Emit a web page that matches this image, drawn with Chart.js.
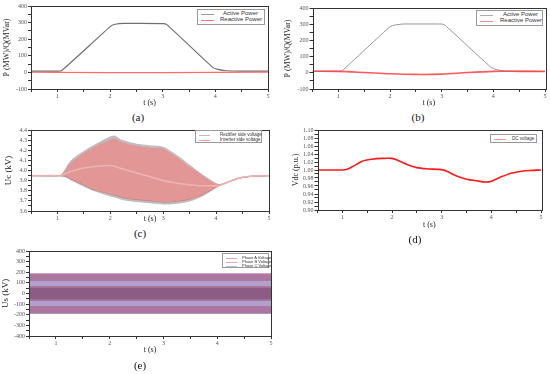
<!DOCTYPE html>
<html><head><meta charset="utf-8">
<script src="https://cdn.jsdelivr.net/npm/chart.js@4.4.1/dist/chart.umd.min.js"></script>
<style>
html,body{margin:0;padding:0;background:#fff;width:550px;height:374px;overflow:hidden;position:relative}
canvas{position:absolute}
.cap{position:absolute;font-family:"Liberation Serif",serif;font-size:11px;color:#111;transform:translate(-50%,-50%);white-space:nowrap}
.leg{position:absolute;border:1px solid #999;background:#fff;box-sizing:border-box;font-family:"Liberation Sans",Arial,sans-serif;color:#333}
.row{position:absolute;left:0;right:0;white-space:nowrap}
.row .ln{position:absolute;height:0;border-top:1px solid #888}
.row .tx{position:absolute}
</style>
</head><body>
<script>
// ---------- data ----------
const tA = [0.5, 1.0, 1.08, 2.02, 2.1, 2.25, 3.0, 3.08, 3.95, 4.05, 4.2, 4.5, 5.0];
const activeA = [8, 8, 10, 280, 290, 295, 294, 288, 30, 18, 10, 8, 8];
const tRA = [0.5, 1.0, 2.0, 3.0, 4.0, 5.0];
const reactiveA = [1, 0, -1, -1, 0, 1];

const tB = [0.5, 1.0, 1.07, 2.0, 2.1, 2.25, 3.0, 3.06, 3.95, 4.05, 4.2, 4.5, 5.0];
const activeB = [10, 10, 12, 285, 295, 301, 301, 295, 35, 20, 12, 10, 10];
const tRB = [0.5, 1.0, 1.5, 2.0, 2.5, 3.0, 3.5, 4.0, 4.5, 5.0];
const reactiveB = [10, 9, 2, -6, -10, -8, 2, 9, 9, 8];

const tC = [0.5, 1.05, 1.15, 1.25, 1.45, 1.7, 2.0, 2.08, 2.2, 2.4, 2.6, 2.8, 3.0, 3.1, 3.3, 3.5, 3.7, 3.9, 4.05, 4.2, 4.4, 4.6, 5.0];
const rectUpper = [3.95, 3.95, 4.01, 4.09, 4.17, 4.25, 4.33, 4.34, 4.30, 4.27, 4.25, 4.24, 4.23, 4.20, 4.13, 4.05, 3.97, 3.90, 3.86, 3.88, 3.92, 3.94, 3.95];
const rectLower = [3.95, 3.95, 3.94, 3.91, 3.86, 3.80, 3.75, 3.74, 3.72, 3.70, 3.69, 3.68, 3.67, 3.67, 3.68, 3.70, 3.74, 3.80, 3.85, 3.88, 3.92, 3.94, 3.95];
const invUpper = [3.95, 3.95, 4.00, 4.07, 4.15, 4.23, 4.30, 4.31, 4.28, 4.25, 4.23, 4.22, 4.21, 4.18, 4.11, 4.03, 3.96, 3.89, 3.86, 3.88, 3.92, 3.94, 3.95];
const invLower = [3.95, 3.95, 3.945, 3.92, 3.87, 3.81, 3.77, 3.76, 3.74, 3.72, 3.71, 3.70, 3.69, 3.69, 3.70, 3.72, 3.75, 3.81, 3.85, 3.88, 3.92, 3.94, 3.95];
const invMid = [3.95, 3.95, 3.97, 3.99, 4.02, 4.04, 4.05, 4.04, 4.02, 3.99, 3.96, 3.93, 3.90, 3.89, 3.87, 3.86, 3.85, 3.85, 3.85, 3.88, 3.92, 3.94, 3.95];

const tD = [0.5, 1.0, 1.08, 1.2, 1.4, 1.6, 1.8, 2.0, 2.1, 2.3, 2.5, 2.7, 3.0, 3.1, 3.3, 3.5, 3.7, 3.9, 4.0, 4.2, 4.4, 4.6, 4.8, 5.0];
const vdc = [1.000, 1.000, 1.001, 1.008, 1.022, 1.027, 1.029, 1.029, 1.025, 1.014, 1.006, 1.003, 1.001, 0.997, 0.985, 0.977, 0.973, 0.970, 0.972, 0.983, 0.992, 0.997, 0.999, 1.000];

const tE = [0.5, 5.0];
const phaseEnvUpper = [185, 185];
const phaseEnvLower = [-185, -185];
const phaseLightUpperHi = [118, 118];
const phaseLightUpperLo = [70, 70];
const phaseLightLowerHi = [-70, -70];
const phaseLightLowerLo = [-118, -118];
const phaseCoreHi = [55, 55];
const phaseCoreLo = [-55, -55];

const xTicksMin = 0.5, xTicksMax = 5;

// ---------- helpers ----------
const pts = (xs, ys) => xs.map((x, i) => ({x, y: ys[i]}));
const frame = {id: 'frame', afterDraw(c) {
  const {ctx, chartArea: a} = c;
  ctx.save(); ctx.strokeStyle = '#333'; ctx.lineWidth = 1;
  ctx.strokeRect(Math.round(a.left) + 0.5, Math.round(a.top) + 0.5, Math.round(a.right - a.left), Math.round(a.bottom - a.top));
  ctx.restore();
}};
const tickFont = {family: 'Liberation Serif', size: 6};
function line(xs, ys, color, w, extra) {
  return Object.assign({data: pts(xs, ys), borderColor: color, borderWidth: w, pointRadius: 0, fill: false, tension: 0.3}, extra || {});
}
function build(box, datasets, y, yTitle) {
  const cv = document.createElement('canvas');
  cv.width = box.cw; cv.height = box.ch;
  cv.style.left = box.cx + 'px'; cv.style.top = box.cy + 'px';
  cv.style.width = box.cw + 'px'; cv.style.height = box.ch + 'px';
  document.body.appendChild(cv);
  new Chart(cv, {
    type: 'line',
    data: {datasets},
    plugins: [frame],
    options: {
      responsive: false, animation: false, devicePixelRatio: 1,
      layout: {padding: {left: 0, top: box.t - box.cy, right: box.cx + box.cw - box.r, bottom: 0}},
      plugins: {legend: {display: false}, tooltip: {enabled: false}},
      scales: {
        x: {type: 'linear', min: xTicksMin, max: xTicksMax,
          ticks: {stepSize: 0.5, font: tickFont, color: '#555', padding: 1, maxRotation: 0, autoSkip: false,
            callback: v => Number.isInteger(v) ? String(v) : ''},
          grid: {drawOnChartArea: false, tickLength: 3, color: '#333'},
          border: {display: false},
          title: {display: true, text: 't (s)', font: {family: 'Liberation Serif', size: 8}, color: '#222', padding: {top: 0, bottom: box.xtp}},
          afterFit: s => { s.height = box.cy + box.ch - box.b; }
        },
        y: {type: 'linear', min: y.min, max: y.max,
          ticks: {stepSize: y.step, font: tickFont, color: '#555', padding: 1, autoSkip: false,
            callback: v => { const k = v / y.label; return Math.abs(k - Math.round(k)) < 1e-6 ? v.toFixed(y.dec) : ''; }},
          grid: {drawOnChartArea: false, tickLength: 3, color: '#333'},
          border: {display: false},
          title: {display: true, text: yTitle, font: {family: 'Liberation Serif', size: box.ytf}, color: '#222', padding: {top: box.ytp, bottom: 0}},
          afterFit: s => { s.width = box.l - box.cx; }
        }
      }
    }
  });
}
function caption(text, x, y) {
  const d = document.createElement('div'); d.className = 'cap'; d.textContent = text;
  d.style.left = x + 'px'; d.style.top = y + 'px'; document.body.appendChild(d);
}
function legend(x, y, w, h, fs, rows) {
  const d = document.createElement('div'); d.className = 'leg';
  Object.assign(d.style, {left: x + 'px', top: y + 'px', width: w + 'px', height: h + 'px', fontSize: fs + 'px'});
  rows.forEach(r => {
    const row = document.createElement('div'); row.className = 'row'; row.style.top = r.y + 'px';
    const ln = document.createElement('div'); ln.className = 'ln';
    Object.assign(ln.style, {left: r.lx + 'px', width: r.lw + 'px', top: '0px', borderTopColor: r.color});
    const tx = document.createElement('div'); tx.className = 'tx'; tx.textContent = r.text;
    Object.assign(tx.style, {left: r.tx + 'px', top: (-fs * 0.6) + 'px'});
    row.appendChild(ln); row.appendChild(tx); d.appendChild(row);
  });
  document.body.appendChild(d);
}
// note: Chart.js paints the first dataset last (on top)

// ---------- (a) ----------
build({cx: 0, cy: 0, cw: 273, ch: 110, l: 31, t: 6, r: 268, b: 89, xtp: 2.2, ytf: 8, ytp: 2.5},
  [line(tRA, reactiveA, 'rgba(255,90,90,0.9)', 1.2, {tension: 0}),
   line(tA, activeA, '#707070', 1.2, {tension: 0.15})],
  {min: -100, max: 400, step: 50, label: 100, dec: 0}, 'P (MW)/Q(MVar)');
legend(197, 9, 68, 16, 6, [
  {y: 4, lx: 3, lw: 13, color: '#999', text: 'Active Power', tx: 25},
  {y: 10, lx: 3, lw: 13, color: '#f77', text: 'Reactive Power', tx: 22}]);
caption('(a)', 138, 117);

// ---------- (b) ----------
build({cx: 275, cy: 0, cw: 275, ch: 110, l: 312.5, t: 8, r: 545, b: 89, xtp: 2.2, ytf: 8, ytp: 8},
  [line(tRB, reactiveB, 'rgba(255,60,60,0.85)', 1.6, {tension: 0.3}),
   line(tB, activeB, '#8a8a8a', 0.9, {tension: 0.15})],
  {min: -100, max: 400, step: 50, label: 100, dec: 0}, 'P (MW)/Q(MVar)');
legend(476, 10, 67, 16, 6, [
  {y: 4, lx: 3, lw: 13, color: '#aaa', text: 'Active Power', tx: 26},
  {y: 10, lx: 3, lw: 13, color: '#f88', text: 'Reactive Power', tx: 23}]);
caption('(b)', 418, 117);

// ---------- (c) ----------
build({cx: 0, cy: 122, cw: 273, ch: 105, l: 31, t: 130, r: 269, b: 211, xtp: 3.2, ytf: 9, ytp: 3.6},
  [line(tC, invMid, 'rgba(245,200,200,0.6)', 1.6),
   line(tC, invUpper, 'rgba(228,150,150,1)', 1, {fill: '+1', backgroundColor: 'rgba(226,150,150,1)'}),
   line(tC, invLower, 'rgba(210,125,125,1)', 1.2),
   line(tC, rectUpper, '#bdbdbd', 1.2, {fill: '+1', backgroundColor: 'rgba(190,190,190,1)'}),
   line(tC, rectLower, '#bdbdbd', 1.2)],
  {min: 3.6, max: 4.4, step: 0.05, label: 0.1, dec: 1}, 'Uc (kV)');
legend(195, 130, 67, 13, 4.5, [
  {y: 3.5, lx: 3, lw: 11, color: '#bbb', text: 'Rectifier side voltage', tx: 24},
  {y: 8.5, lx: 3, lw: 11, color: '#f99', text: 'Inverter side voltage', tx: 24}]);
caption('(c)', 140, 233);

// ---------- (d) ----------
build({cx: 275, cy: 122, cw: 275, ch: 110, l: 317.5, t: 130, r: 541, b: 210, xtp: 2.2, ytf: 8, ytp: 16},
  [line(tD, vdc, 'rgba(255,25,25,1)', 1.6, {tension: 0.3})],
  {min: 0.9, max: 1.1, step: 0.01, label: 0.02, dec: 2}, 'Vdc (p.u.)');
legend(490, 134, 47, 9, 4.5, [
  {y: 4, lx: 3, lw: 12, color: '#f99', text: 'DC voltage', tx: 21}]);
caption('(d)', 415, 239);

// ---------- (e) ----------
const clear = 'rgba(0,0,0,0)';
build({cx: 0, cy: 244, cw: 275, ch: 112, l: 29, t: 251, r: 271, b: 336, xtp: 1.2, ytf: 9, ytp: 0},
  [line(tE, phaseCoreHi, clear, 0, {tension: 0, fill: '+1', backgroundColor: 'rgba(140,92,132,1)'}),
   line(tE, phaseCoreLo, clear, 0, {tension: 0}),
   line(tE, phaseLightUpperHi, clear, 0, {tension: 0, fill: '+1', backgroundColor: 'rgba(176,160,204,1)'}),
   line(tE, phaseLightUpperLo, clear, 0, {tension: 0}),
   line(tE, phaseLightLowerHi, clear, 0, {tension: 0, fill: '+1', backgroundColor: 'rgba(176,160,204,1)'}),
   line(tE, phaseLightLowerLo, clear, 0, {tension: 0}),
   line(tE, phaseEnvUpper, 'rgba(190,135,175,1)', 1, {tension: 0, fill: '+1', backgroundColor: 'rgba(172,118,160,1)'}),
   line(tE, phaseEnvLower, 'rgba(165,160,215,1)', 1.5, {tension: 0})],
  {min: -400, max: 400, step: 50, label: 100, dec: 0}, 'Us (kV)');
legend(222, 253, 47, 15, 4, [
  {y: 3.5, lx: 3, lw: 11, color: '#c9a9c9', text: 'Phase A Voltage', tx: 19},
  {y: 7.5, lx: 3, lw: 11, color: '#f9a0a0', text: 'Phase B Voltage', tx: 19},
  {y: 11.5, lx: 3, lw: 11, color: '#a0c0f0', text: 'Phase C Voltage', tx: 19}]);
caption('(e)', 140, 365);
</script>
</body></html>
